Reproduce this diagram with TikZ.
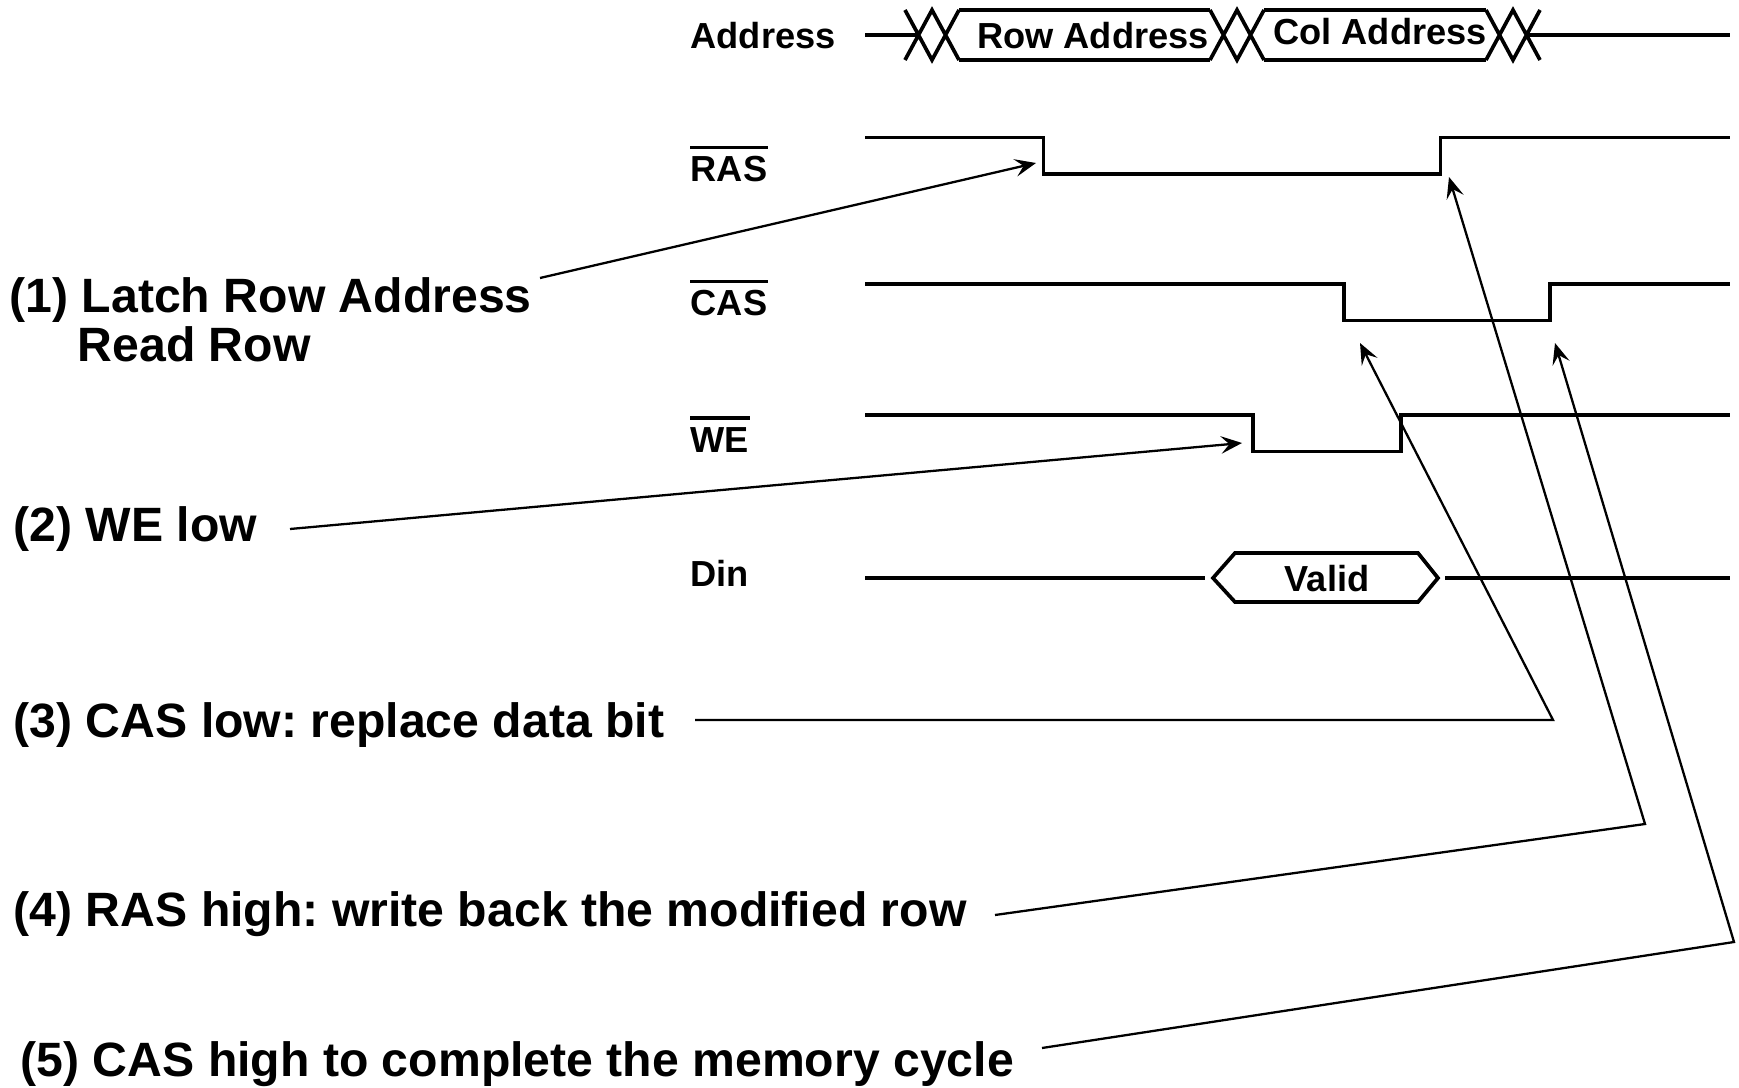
\documentclass[tikz,border=0pt]{standalone}
\usepackage{fontspec}
\setmainfont{Liberation Sans}
\usetikzlibrary{arrows.meta}
\frenchspacing

\begin{document}
\begin{tikzpicture}[x=0.01cm, y=-0.01cm,
  sig/.style={line width=1.05pt},
  ptr/.style={line width=0.65pt, -{Stealth[length=6pt,width=5pt,inset=2.4pt]}},
  lbl/.style={anchor=base west, inner sep=0pt, font=\fontsize{10.3}{12}\selectfont\bfseries},
  buslbl/.style={anchor=base, inner sep=0pt, font=\fontsize{10.3}{12}\selectfont\bfseries},
  note/.style={anchor=base west, inner sep=0pt, font=\fontsize{13.7}{16}\selectfont\bfseries}]
\useasboundingbox (0,0) rectangle (1739,1088);

% signal names
\node[lbl] (addr) at (690,49) {Address};
\node[lbl] (ras) at (690,182) {RAS};
\node[lbl] (cas) at (690,316) {CAS};
\node[lbl] (we) at (690,452) {WE};
\node[lbl] (din) at (690,586) {Din};
\foreach \s in {ras,cas,we}
  \draw[sig] ([yshift=2.4pt]\s.north west) -- ([yshift=2.4pt]\s.north east);

% address bus
\draw[sig] (865,35) -- (918,35);
\foreach \xa in {905,1210,1486}
  \draw[sig] (\xa,10) -- ++(27,50) -- ++(27,-50) (\xa,60) -- ++(27,-50) -- ++(27,50);
\draw[sig] (959,10) -- (1210,10) (959,60) -- (1210,60);
\draw[sig] (1264,10) -- (1486,10) (1264,60) -- (1486,60);
\draw[sig] (1527,35) -- (1730,35);
\node[buslbl] (rowad) at (1093,49) {Row Address};
\node[buslbl] (colad) at (1380,45) {Col Address};

% strobes
\draw[sig] (865,137.5) -| (1043.5,174) -| (1440.5,137.5) -- (1730,137.5);
\draw[sig] (865,284) -| (1344,320.5) -| (1550,284) -- (1730,284);
\draw[sig] (865,415) -| (1253,451.5) -| (1401,415) -- (1730,415);

% data in
\draw[sig] (865,578) -- (1205,578);
\draw[sig] (1213,578) -- (1235,553) -- (1418,553) -- (1438,578) -- (1418,602) -- (1235,602) -- cycle;
\draw[sig] (1445,578) -- (1730,578);
\node[buslbl] (valid) at (1327,591) {Valid};

% steps
\node[note] (n1) at (9,313) {(1) Latch Row Address};
\node[note] (n1b) at (77,361) {Read Row};
\node[note] (n2) at (13,541) {(2) WE low};
\node[note] (n3) at (13,737) {(3) CAS low: replace data bit};
\node[note] (n4) at (13,926) {(4) RAS high: write back the modified row};
\node[note] (n5) at (20,1076) {(5) CAS high to complete the memory cycle};

\coordinate (s1) at (540,278);  \coordinate (t1) at (1036,163);
\coordinate (s2) at (290,529);  \coordinate (t2) at (1242,443);
\coordinate (s3) at (695,720);  \coordinate (k3) at (1553,720);  \coordinate (t3) at (1360,343);
\coordinate (s4) at (995,915);  \coordinate (k4) at (1645,824);  \coordinate (t4) at (1449,177);
\coordinate (s5) at (1042,1048); \coordinate (k5) at (1734,942); \coordinate (t5) at (1555,343);

\draw[ptr] (s1) -- (t1);
\draw[ptr] (s2) -- (t2);
\draw[ptr] (s3) -- (k3) -- (t3);
\draw[ptr] (s4) -- (k4) -- (t4);
\draw[ptr] (s5) -- (k5) -- (t5);

\end{tikzpicture}
\end{document}
